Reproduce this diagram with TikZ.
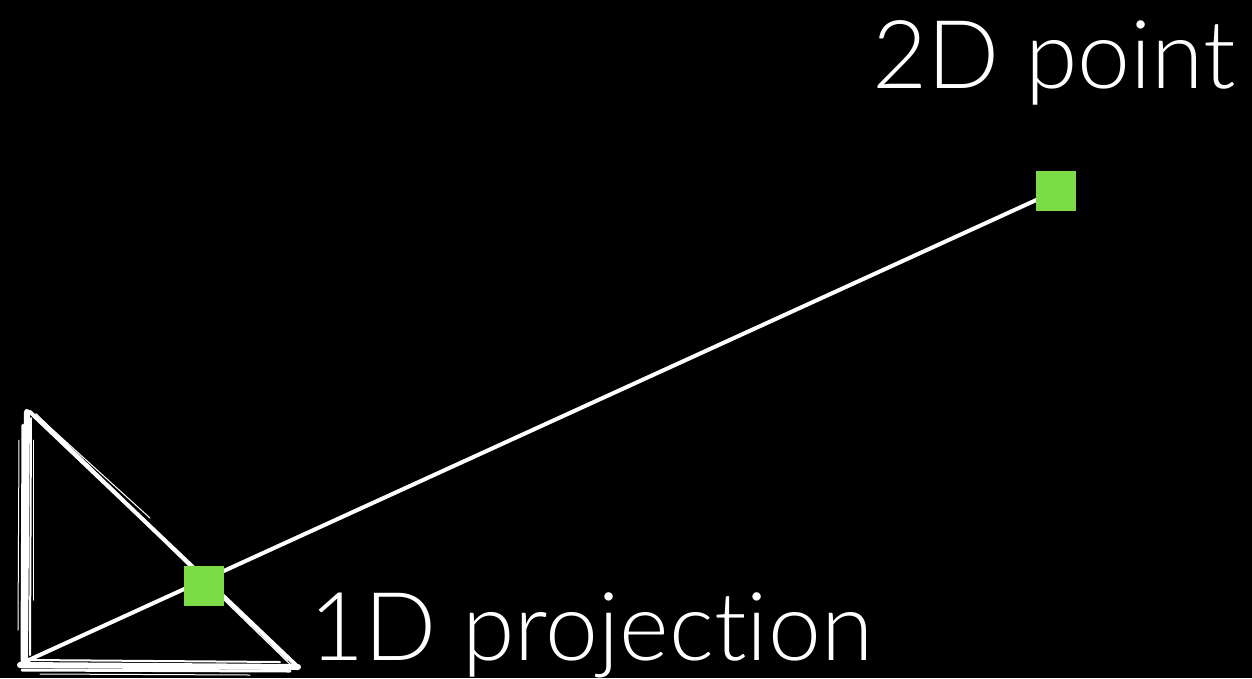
\documentclass[tikz,border=0pt]{standalone}
\usepackage{fontspec}
\setmainfont{Lato}[UprightFont={* Light}, Ligatures=NoCommon]
\usetikzlibrary{backgrounds}
\definecolor{ptgreen}{HTML}{7BDC45}
\tikzset{
  pt/.style={fill=ptgreen, draw=none, minimum size=40pt, inner sep=0pt, outer sep=0pt},
  lbl/.style={text=white, font=\fontsize{95}{95}\selectfont, inner sep=0pt},
  chalk/.style={draw=white, line cap=round, line join=round},
  ray/.style={draw=white, line width=4pt}
}
\begin{document}
\begin{tikzpicture}[x=1pt,y=-1pt]
\useasboundingbox (0,0) rectangle (1252,678);
\coordinate (A) at (28,408);
\coordinate (B) at (20,664);
\coordinate (C) at (300,668);
\node[pt] (p2) at (1056,191) {};
\node[pt] (p1) at (204,586) {};
\node[lbl, anchor=base east] (t2) at (1236,88) {2D point};
\node[lbl, anchor=base west] (t1) at (309,660) {1D projection};
\begin{pgfonlayer}{background}
  \fill[black] (0,0) rectangle (1252,678);
  % sketchy triangle: vertical edge
  \draw[chalk, line width=6pt] (27,412) -- (25,662);
  \draw[chalk, line width=3pt] (23,425) -- (22,660);
  \draw[chalk, line width=2pt] (31,418) -- (30,655);
  \draw[chalk, line width=1pt] (19,440) -- (18,630);
  \draw[chalk, line width=1pt] (33,440) -- (33,600);
  % hypotenuse
  \draw[chalk, line width=4pt] (30,412) -- (298,667);
  \draw[chalk, line width=1.5pt] (36,414) -- (288,660);
  \draw[chalk, line width=1.2pt] (44,425) -- (292,666);
  \draw[chalk, line width=1pt] (42,420) -- (150,518);
  % bottom edge
  \draw[chalk, line width=6pt] (20,665) -- (298,667);
  \draw[chalk, line width=3pt] (22,670) -- (290,671);
  \draw[chalk, line width=2pt] (30,660) -- (280,662);
  \draw[chalk, line width=1pt] (40,674) -- (250,675);
  % ray
  \draw[ray] (B) -- (p2.center);
\end{pgfonlayer}
\end{tikzpicture}
\end{document}
